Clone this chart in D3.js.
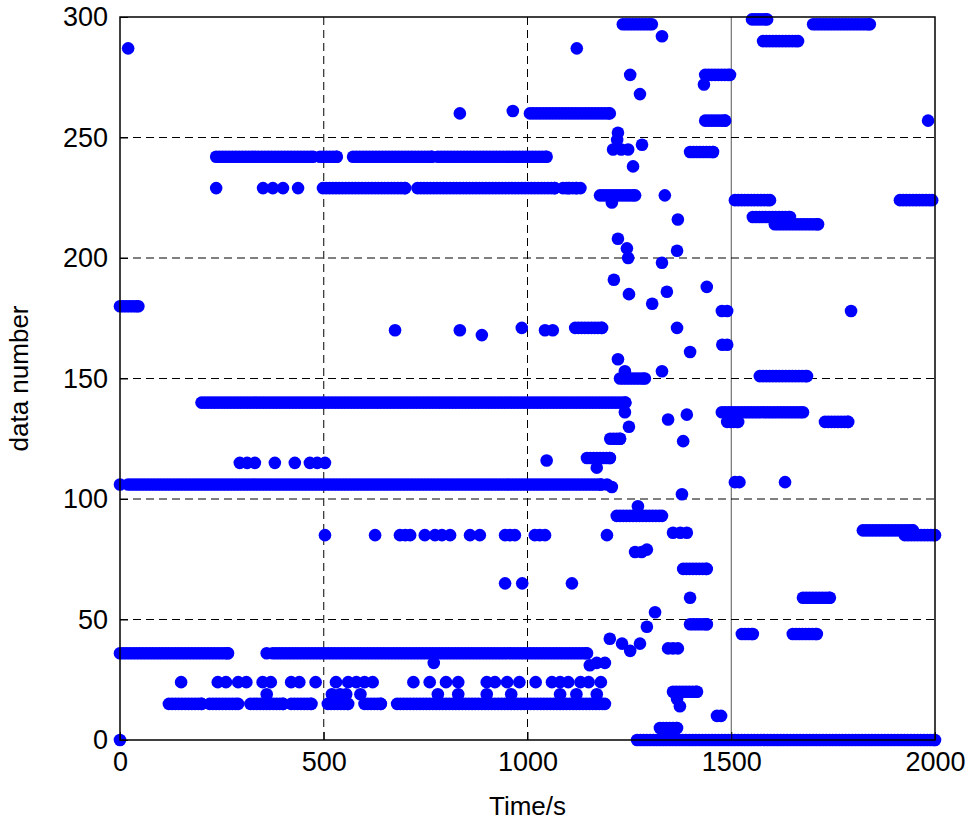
<!DOCTYPE html>
<html>
<head>
<meta charset="utf-8">
<script src="https://cdn.jsdelivr.net/npm/d3@7"></script>
<style>
  body { margin: 0; background: #fff; }
  text { font-family: "Liberation Sans", Arial, sans-serif; }
</style>
</head>
<body>
<div id="chart"></div>
<script>
var w = 971;
var h = 832;
var margin = {left: 120, right: 36, top: 17, bottom: 92};

var xTicks = [0, 500, 1000, 1500, 2000];
var yTicks = [0, 50, 100, 150, 200, 250, 300];

// continuous rows: [data number, start time, end time], sampled every runStep seconds
var runStep = 8;
var runs = [
  [36, 0, 265], [36, 375, 1146],
  [106, 20, 1180],
  [140, 200, 1240],
  [180, 0, 45],
  [242, 236, 474], [242, 491, 532], [242, 572, 765], [242, 780, 1047],
  [229, 498, 700], [229, 730, 1067], [229, 1087, 1121],
  [260, 1006, 1202],
  [15, 120, 200], [15, 220, 290], [15, 320, 400], [15, 420, 470], [15, 510, 560],
  [15, 600, 640], [15, 680, 1190],
  [0, 1269, 2000],
  [297, 1234, 1305], [276, 1436, 1497], [257, 1436, 1485], [244, 1399, 1455],
  [299, 1551, 1588], [297, 1701, 1840], [290, 1578, 1664],
  [224, 1509, 1595], [224, 1914, 1993], [217, 1553, 1644], [214, 1607, 1713],
  [151, 1570, 1686], [150, 1227, 1288], [136, 1477, 1676], [132, 1490, 1517],
  [132, 1730, 1787], [93, 1219, 1330], [87, 1823, 1946], [85, 1926, 2000],
  [71, 1382, 1440], [59, 1676, 1742], [48, 1399, 1440], [44, 1526, 1553],
  [44, 1651, 1710], [20, 1357, 1416], [5, 1325, 1367], [226, 1178, 1264],
  [171, 1117, 1183], [125, 1203, 1227], [117, 1146, 1202]
];

// single samples: [time, data number]
var points = [
  [0, 0], [0, 106], [20, 287], [360, 36], [1195, 106], [1207, 105],
  [236, 229], [351, 229], [375, 229], [400, 229], [437, 229], [1100, 229], [1130, 229],
  [834, 260], [964, 261], [1121, 287], [1330, 292], [1252, 276], [1276, 268],
  [1433, 272], [1983, 257], [1222, 252], [1220, 249], [1210, 245], [1230, 245],
  [1247, 245], [1281, 247], [1259, 238], [1207, 223], [1337, 226], [1369, 216],
  [1222, 208], [1244, 204], [1247, 200], [1330, 198], [1367, 203], [1212, 191],
  [1249, 185], [1306, 181], [1342, 186], [1440, 188], [1477, 178], [1490, 178],
  [1794, 178], [675, 170], [834, 170], [888, 168], [986, 171], [1043, 170],
  [1062, 170], [1367, 171], [1399, 161], [1490, 164], [1478, 164], [1222, 158],
  [1239, 153], [1330, 153], [1239, 136], [1249, 130], [1345, 133], [1391, 135],
  [1382, 124], [1047, 116], [1170, 113], [1379, 102], [1509, 107], [1520, 107],
  [1632, 107], [294, 115], [312, 115], [331, 115], [380, 115], [429, 115],
  [466, 115], [484, 115], [503, 115], [1271, 97],
  [503, 85], [626, 85], [687, 85], [700, 85], [712, 85], [748, 85], [773, 85],
  [790, 85], [810, 85], [859, 85], [883, 85], [945, 85], [957, 85], [969, 85],
  [1018, 85], [1030, 85], [1043, 85], [1195, 85], [1357, 86], [1375, 86], [1391, 86],
  [945, 65], [987, 65], [1109, 65], [1264, 78], [1280, 78], [1293, 79],
  [1399, 59], [1313, 53], [1293, 47], [1202, 42], [1232, 40], [1252, 37],
  [1276, 40], [1345, 38], [1357, 38], [1369, 38], [1153, 31], [770, 32],
  [1170, 32], [1190, 32], [1367, 17], [1374, 14], [1465, 10], [1475, 10],
  [150, 24], [240, 24], [260, 24], [290, 24], [310, 24], [350, 24], [370, 24],
  [420, 24], [440, 24], [480, 24], [530, 24], [560, 24], [580, 24], [600, 24],
  [620, 24], [720, 24], [760, 24], [800, 24], [830, 24], [900, 24], [920, 24],
  [950, 24], [980, 24], [1020, 24], [1060, 24], [1080, 24], [1100, 24],
  [1130, 24], [1150, 24], [1180, 24],
  [360, 19], [520, 19], [540, 19], [555, 19], [590, 19], [780, 19], [830, 19],
  [900, 19], [960, 19], [1080, 19], [1120, 19], [1170, 19]
];

var dataset = [];
runs.forEach(function(r) {
  for (var t = r[1]; t <= r[2]; t += runStep) dataset.push([t, r[0]]);
  dataset.push([r[2], r[0]]);
});
points.forEach(function(p) { dataset.push(p); });

var xScale = d3.scaleLinear().domain([0, 2000]).range([margin.left, w - margin.right]);
var yScale = d3.scaleLinear().domain([0, 300]).range([h - margin.bottom, margin.top]);

var svg = d3.select("#chart").append("svg").attr("width", w).attr("height", h);

// grid
svg.append("g")
   .selectAll("line")
   .data(xTicks.slice(1, -1))
   .enter().append("line")
   .attr("x1", function(d) { return xScale(d); })
   .attr("x2", function(d) { return xScale(d); })
   .attr("y1", yScale(0)).attr("y2", yScale(300))
   .attr("stroke", function(d) { return d == 1500 ? "#555" : "#000"; })
   .attr("stroke-width", 1)
   .attr("stroke-dasharray", function(d) { return d == 1500 ? null : "8,5"; });

svg.append("g")
   .selectAll("line")
   .data(yTicks.slice(1, -1))
   .enter().append("line")
   .attr("x1", xScale(0)).attr("x2", xScale(2000))
   .attr("y1", function(d) { return yScale(d); })
   .attr("y2", function(d) { return yScale(d); })
   .attr("stroke", "#000")
   .attr("stroke-dasharray", "8,5");

svg.append("g")
   .selectAll("circle")
   .data(dataset)
   .enter().append("circle")
   .attr("cx", function(d) { return xScale(d[0]); })
   .attr("cy", function(d) { return yScale(d[1]); })
   .attr("r", 6.3)
   .attr("fill", "#0000ff");

// frame
svg.append("rect")
   .attr("x", xScale(0)).attr("y", yScale(300))
   .attr("width", xScale(2000) - xScale(0))
   .attr("height", yScale(0) - yScale(300))
   .attr("fill", "none").attr("stroke", "#000").attr("stroke-width", 1.5);

var xAxis = d3.axisBottom(xScale).tickValues(xTicks).tickFormat(d3.format("d"))
              .tickSizeInner(-8).tickSizeOuter(0).tickPadding(12);
var yAxis = d3.axisLeft(yScale).tickValues(yTicks).tickFormat(d3.format("d"))
              .tickSizeInner(-8).tickSizeOuter(0).tickPadding(12);

var gx = svg.append("g").attr("transform", "translate(0," + yScale(0) + ")").call(xAxis);
var gy = svg.append("g").attr("transform", "translate(" + xScale(0) + ",0)").call(yAxis);
gx.select(".domain").remove();
gy.select(".domain").remove();
svg.selectAll(".tick text").attr("font-size", 27).attr("fill", "#000")
   .attr("font-family", "Liberation Sans, Arial, sans-serif");

svg.append("text")
   .attr("x", (xScale(0) + xScale(2000)) / 2).attr("y", 815)
   .attr("text-anchor", "middle").attr("font-size", 26).text("Time/s");

svg.append("text")
   .attr("transform", "translate(28," + (yScale(150)) + ") rotate(-90)")
   .attr("text-anchor", "middle").attr("font-size", 26).text("data number");
</script>
</body>
</html>
